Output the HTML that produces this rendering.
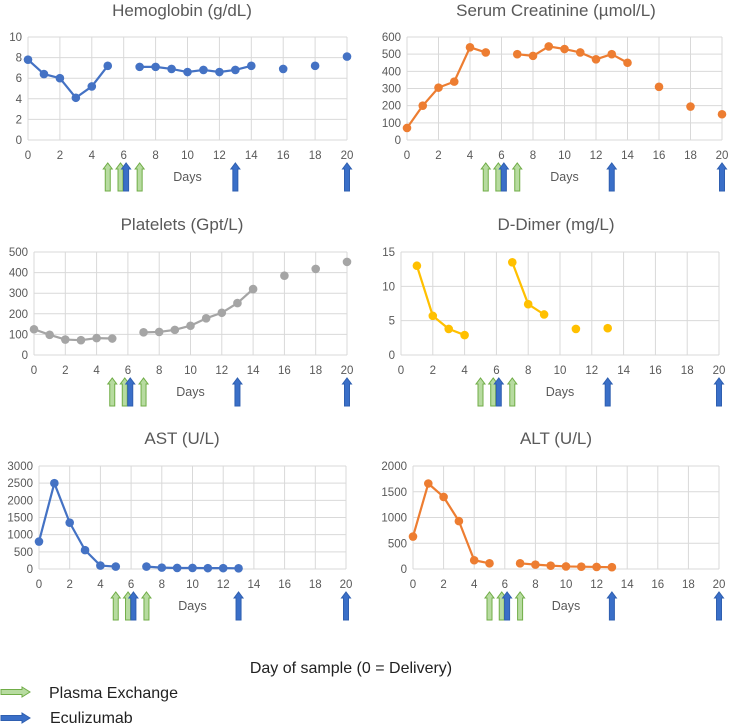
<!DOCTYPE html>
<html><head><meta charset="utf-8"><style>
body{margin:0;background:#fff;width:729px;height:727px;overflow:hidden;font-family:"Liberation Sans",sans-serif}
svg{display:block}
</style></head><body>
<svg id="c" width="729" height="727" xmlns="http://www.w3.org/2000/svg"></svg>
<script>
const days=[0,1,2,3,4,5,6,7,8,9,10,11,12,13,14,15,16,17,18,19,20];
const xTicks=[0,2,4,6,8,10,12,14,16,18,20];
const hbVals=[7.8,6.4,6.0,4.1,5.2,7.2,null,7.1,7.1,6.9,6.6,6.8,6.6,6.8,7.2,null,6.9,null,7.2,null,8.1];
const crVals=[70,200,305,340,540,510,null,500,490,545,530,510,470,500,450,null,310,null,195,null,150];
const pltVals=[125,98,75,72,82,80,null,110,112,122,142,178,205,252,320,null,385,null,418,null,452];
const ddVals=[null,13,5.7,3.8,2.9,null,null,13.5,7.4,5.9,null,3.8,null,3.9,null,null,null,null,null,null,null];
const astVals=[800,2500,1350,550,100,70,null,70,40,30,30,25,25,20,null,null,null,null,null,null,null];
const altVals=[630,1660,1400,930,170,110,null,110,85,65,50,45,40,35,null,null,null,null,null,null,null];
const hbTicks=[0,2,4,6,8,10];
const crTicks=[0,100,200,300,400,500,600];
const pltTicks=[0,100,200,300,400,500];
const ddTicks=[0,5,10,15];
const astTicks=[0,500,1000,1500,2000,2500,3000];
const altTicks=[0,500,1000,1500,2000];
const plasmaDays=[5,5.8,7];
const eculDays=[6.15,13,20];

const svg=document.getElementById('c');
const NS='http://www.w3.org/2000/svg';
function mk(tag,attrs,parent){const e=document.createElementNS(NS,tag);for(const k in attrs)e.setAttribute(k,attrs[k]);(parent||svg).appendChild(e);return e;}

function panel(o){
  const g=mk('g',{});
  
  
  const ymax=o.ticks[o.ticks.length-1];
  const X=d=>o.x0+(o.x1-o.x0)*d/20;
  const Y=v=>o.y0-(o.y0-o.yTop)*v/ymax;
  const t=mk('text',{x:o.tx,y:o.ty,'text-anchor':'middle','font-size':17,fill:'#595959'},g);t.textContent=o.title;
  
  
  o.ticks.forEach(v=>{
    mk('line',{x1:o.x0,x2:o.x1,y1:Y(v),y2:Y(v),stroke:'#d9d9d9','stroke-width':1},g);
    const l=mk('text',{x:o.x0-6,y:Y(v)+4,'text-anchor':'end','font-size':11.5,fill:'#595959'},g);l.textContent=v;
    
    
  });
  xTicks.forEach(d=>{
    mk('line',{x1:X(d),x2:X(d),y1:o.yTop,y2:o.y0,stroke:'#d9d9d9','stroke-width':1},g);
    const l=mk('text',{x:X(d),y:o.y0+19,'text-anchor':'middle','font-size':11.5,fill:'#595959'},g);l.textContent=d;
    
    
  });
  const dl=mk('text',{x:X(10),y:o.y0+41,'text-anchor':'middle','font-size':12.5,fill:'#595959'},g);dl.textContent='Days';
  
  
  // lines
  let seg=[];
  const flush=()=>{if(seg.length>1){const p=mk('polyline',{points:seg.join(' '),fill:'none',stroke:o.color,'stroke-width':2.2,'stroke-linejoin':'round'},g);}seg=[];};
  days.forEach((d,i)=>{const v=o.vals[i];if(v===null){flush();}else seg.push(X(d)+','+Y(v));});
  flush();
  days.forEach((d,i)=>{const v=o.vals[i];if(v!==null){const c=mk('circle',{cx:X(d),cy:Y(v),r:4.3,fill:o.color},g);}});
  // arrows
  const top=o.y0+23,bot=o.y0+51;
  const arrow=(d,fill,stroke,nm)=>{
    const x=X(d);
    const p=mk('path',{d:`M${x-2.5},${bot} L${x-2.5},${top+6} L${x-4.5},${top+6} L${x},${top} L${x+4.5},${top+6} L${x+2.5},${top+6} L${x+2.5},${bot} Z`,fill:fill,stroke:stroke,'stroke-width':1},g);
    
    
  };
  plasmaDays.forEach(d=>arrow(d,'#b7dba0','#70ad47','plasma-exchange-arrow'));
  eculDays.forEach(d=>arrow(d,'#3a6fc8','#2f5fb0','eculizumab-arrow'));
}
panel({name:'hemoglobin',title:'Hemoglobin (g/dL)',vals:hbVals,ticks:hbTicks,color:'#4472c4',x0:28,x1:347,yTop:37,y0:140,tx:182,ty:16});
panel({name:'creatinine',title:'Serum Creatinine (µmol/L)',vals:crVals,ticks:crTicks,color:'#ed7d31',x0:407,x1:722,yTop:37,y0:140,tx:556,ty:16});
panel({name:'platelets',title:'Platelets (Gpt/L)',vals:pltVals,ticks:pltTicks,color:'#a5a5a5',x0:34,x1:347,yTop:252,y0:355,tx:182,ty:230});
panel({name:'d-dimer',title:'D-Dimer (mg/L)',vals:ddVals,ticks:ddTicks,color:'#ffc000',x0:401,x1:719,yTop:252,y0:355,tx:556,ty:230});
panel({name:'ast',title:'AST (U/L)',vals:astVals,ticks:astTicks,color:'#4472c4',x0:39,x1:346,yTop:466,y0:569,tx:182,ty:444});
panel({name:'alt',title:'ALT (U/L)',vals:altVals,ticks:altTicks,color:'#ed7d31',x0:413,x1:719,yTop:466,y0:569,tx:556,ty:444});

const cap=mk('text',{x:351,y:673,'text-anchor':'middle','font-size':16,fill:'#222'});cap.textContent='Day of sample (0 = Delivery)';


function legArrow(y,fill,stroke,nm){
  const p=mk('path',{d:`M1,${y-2.5} L22,${y-2.5} L22,${y-5} L30,${y} L22,${y+5} L22,${y+2.5} L1,${y+2.5} Z`,fill:fill,stroke:stroke,'stroke-width':1});
  
  
}
legArrow(692,'#b7dba0','#70ad47','legend-plasma-arrow');
legArrow(718,'#3a6fc8','#2f5fb0','legend-eculizumab-arrow');
const l1=mk('text',{x:49,y:698,'font-size':16,fill:'#222'});l1.textContent='Plasma Exchange';


const l2=mk('text',{x:50,y:723,'font-size':16,fill:'#222'});l2.textContent='Eculizumab';


</script>
</body></html>
